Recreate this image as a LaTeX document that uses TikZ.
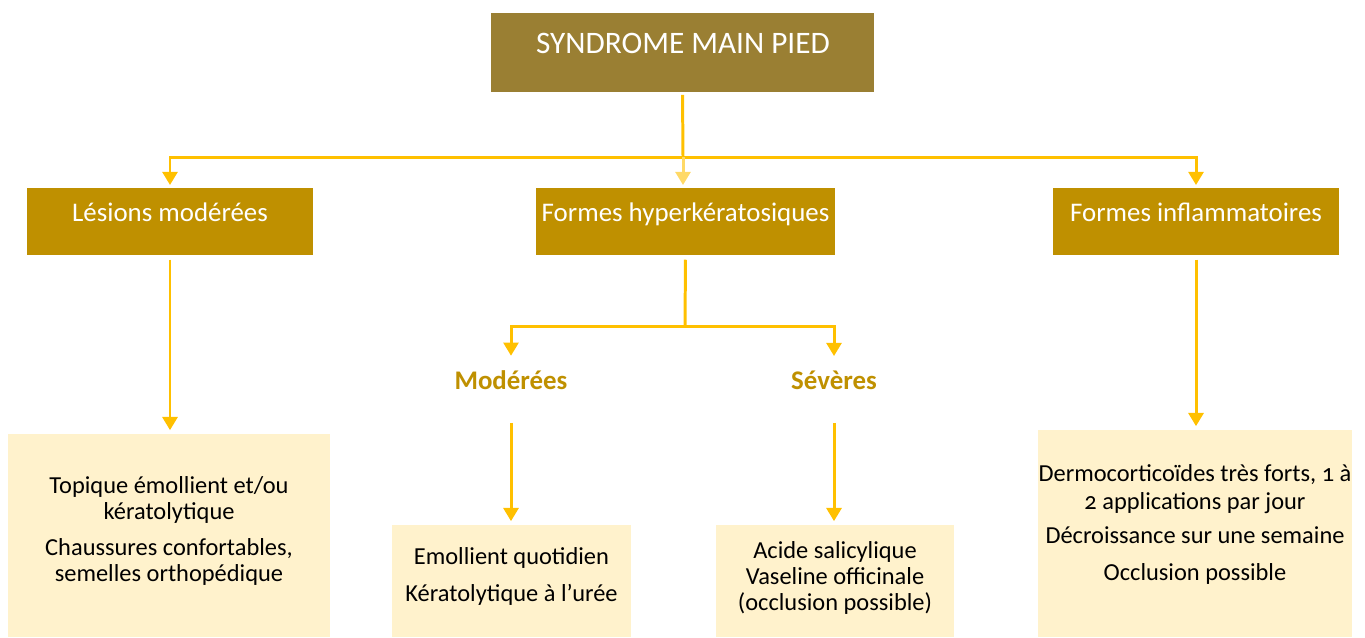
\documentclass[tikz,border=0pt]{standalone}
\usepackage{fontspec}
\setmainfont[Numbers=OldStyle]{Carlito}
\usetikzlibrary{arrows.meta}
\definecolor{olive}{HTML}{9A7F33}
\definecolor{gold}{HTML}{BF9000}
\definecolor{cream}{HTML}{FFF2CC}
\definecolor{amber}{HTML}{FFC000}
\definecolor{paleamber}{HTML}{FFD966}

\begin{document}
\begin{tikzpicture}[x=0.02cm, y=-0.02cm,
    titlebox/.style={rectangle, fill=olive, minimum width=7.66cm, minimum height=1.58cm, inner sep=0pt},
    catbox/.style={rectangle, fill=gold, minimum height=1.34cm, inner sep=0pt},
    treatbox/.style={rectangle, fill=cream, inner sep=0pt},
    boxtext/.style={align=center, font=\fontsize{13.9}{14.7}\selectfont},
    cattext/.style={anchor=base, text=white, font=\fontsize{15.3}{18}\selectfont},
    sublabel/.style={anchor=base, text=gold, font=\bfseries\fontsize{15.3}{18}\selectfont, inner sep=0pt},
    flow/.style={amber, line width=1.7pt, -{Triangle[width=8.5pt,length=7.5pt]}}]
    \useasboundingbox (0,0) rectangle (1365,637);

    % Nodes
    \node[titlebox] (syndrome) at (682.5,52.5) {};
    \node[anchor=base, text=white, font=\fontsize{17.8}{20}\selectfont] (syndrometext) at (683,53) {SYNDROME MAIN PIED};

    \node[catbox, minimum width=5.72cm] (lesions) at (170,221.5) {};
    \node[catbox, minimum width=5.98cm] (hyper) at (685.5,221.5) {};
    \node[catbox, minimum width=5.72cm] (inflam) at (1196,221.5) {};
    \node[cattext] (lesionstext) at (170,221.5) {Lésions modérées};
    \node[cattext] (hypertext) at (685.5,221.5) {Formes hyperkératosiques};
    \node[cattext] (inflamtext) at (1196,221.5) {Formes inflammatoires};

    \node[sublabel] (moderees) at (511,389) {Modérées};
    \node[sublabel] (severes) at (834,389) {Sévères};

    \node[treatbox, minimum width=6.44cm, minimum height=4.06cm] (topique) at (169,535.5) {};
    \node[treatbox, minimum width=4.78cm, minimum height=2.24cm] (emollient) at (511.5,581) {};
    \node[treatbox, minimum width=4.76cm, minimum height=2.24cm] (acide) at (835,581) {};
    \node[treatbox, minimum width=6.28cm, minimum height=4.14cm] (dermo) at (1195,533.5) {};

    \node[boxtext] (topiquetext) at (169,531) {Topique émollient et/ou\\kératolytique\\[6pt]Chaussures confortables,\\semelles orthopédique};
    \node[boxtext] (emollienttext) at (511.5,576.5) {Emollient quotidien\\[6pt]Kératolytique à l’urée};
    \node[boxtext] (acidetext) at (835,578) {Acide salicylique\\Vaseline officinale\\(occlusion possible)};
    \node[boxtext] (dermotext) at (1195,524.5) {Dermocorticoïdes très forts, 1 à\\[1pt]2 applications par jour\\[5pt]Décroissance sur une semaine\\[6pt]Occlusion possible};

    % Edges
    \coordinate (bus) at (683,157);
    \coordinate (split) at (685,326);
    \draw[amber, line width=1.7pt, shorten <=1.5pt] (syndrome.south) -- (bus);
    \draw[flow, shorten >=1.5pt] (bus) -| (lesions.north);
    \draw[flow, shorten >=1.5pt] (bus) -| (inflam.north);
    \draw[flow, paleamber, shorten >=1.5pt] (bus) -- (bus |- hyper.north);
    \draw[amber, line width=1.7pt, shorten <=2.5pt] (hyper.south) -- (split);
    \draw[flow, shorten >=8pt] (split) -| (moderees.north);
    \draw[flow, shorten >=8pt] (split) -| (severes.north);
    \draw[flow, shorten <=2.5pt, shorten >=2pt] (lesions.south) -- (lesions.south |- topique.north);
    \draw[flow, shorten <=2.5pt, shorten >=2pt] (inflam.south) -- (inflam.south |- dermo.north);
    \draw[flow, shorten <=19pt, shorten >=2pt] (moderees.south) -- (moderees.south |- emollient.north);
    \draw[flow, shorten <=19pt, shorten >=2pt] (severes.south) -- (severes.south |- acide.north);
\end{tikzpicture}
\end{document}
